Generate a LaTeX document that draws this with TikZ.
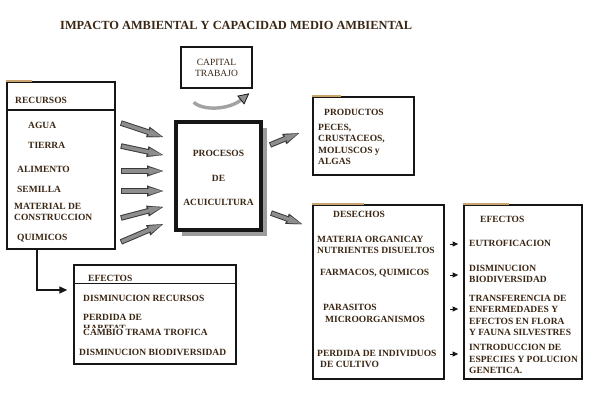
\documentclass[tikz,border=0pt]{standalone}
\usepackage{fontspec}
\setmainfont{Liberation Serif}
\usetikzlibrary{arrows.meta,calc,shadows}
\definecolor{Ink}{HTML}{3A2614}
\definecolor{Edge}{HTML}{161616}
\definecolor{ArrowFill}{HTML}{8E8E8E}
\definecolor{ArrowEdge}{HTML}{3A3A3A}
\definecolor{Bend}{HTML}{A2A2A2}
\definecolor{Shade}{HTML}{9C9C9C}
\definecolor{Tan}{HTML}{C9A46E}

\begin{document}
\begin{tikzpicture}[x=1pt,y=-1pt,>=Latex]
  \tikzset{
    panel/.style={draw=Edge, line width=1.7pt, fill=white, inner sep=0pt},
    capbox/.style={panel, line width=2.6pt, minimum width=71pt, minimum height=41pt},
    procbox/.style={panel, line width=4pt, minimum width=85pt, minimum height=108pt,
      drop shadow={shadow xshift=6pt, shadow yshift=-6pt, fill=Shade, opacity=1}},
    txt/.style={text=Ink, inner sep=0pt, anchor=west, align=left,
      font=\bfseries\fontsize{9.5}{11.6}\selectfont},
    txtc/.style={txt, anchor=center, align=center},
    plain/.style={txtc, font=\fontsize{9.5}{11}\selectfont},
    head/.style={txt},
    maintitle/.style={txt, font=\bfseries\fontsize{12.4}{14}\selectfont},
    tab/.style={draw=Tan, line width=1.4pt},
    fat/.style={line width=5.6pt, draw=ArrowEdge,
      -{Triangle[length=16pt,width=11pt,line width=0.1pt]},
      postaction={draw=ArrowFill, line width=3.6pt,
        -{Triangle[length=13pt,width=7.6pt,line width=0.1pt]},
        shorten >=1.4pt, shorten <=0.9pt}},
    bendarrow/.style={draw=Bend, line width=3.4pt,
      -{Triangle[length=11pt,width=11pt,line width=0.8pt,color=Edge,fill=ArrowFill]}},
    tiny/.style={draw=Edge, line width=1pt, -{Triangle[length=5.5pt,width=5pt]}},
    link/.style={draw=Edge, line width=1.5pt, -{Triangle[length=8pt,width=7pt]}}
  }

  \useasboundingbox (0,0) rectangle (594,413);

  \node[maintitle] (title) at (60,25) {IMPACTO AMBIENTAL Y CAPACIDAD MEDIO AMBIENTAL};

  \node[panel, minimum width=108pt, minimum height=167pt] (recursos) at (61,165.5) {};
  \node[capbox] (capital) at (216.5,67.5) {};
  \node[procbox] (procesos) at (218.5,176) {};
  \node[panel, minimum width=101pt, minimum height=78pt] (productos) at (363.5,136) {};
  \node[panel, minimum width=131pt, minimum height=174pt] (desechos) at (378.5,292) {};
  \node[panel, minimum width=118pt, minimum height=174pt] (efectosR) at (523,292) {};
  \node[panel, line width=1.4pt, minimum width=162pt, minimum height=99pt] (efectosL) at (155,314.5) {};

  \draw[panel] ([yshift=-29pt]recursos.north west) -- ([yshift=-29pt]recursos.north east);
  \draw[panel, line width=1.4pt] ([yshift=-19pt]efectosL.north west) -- ([yshift=-19pt]efectosL.north east);

  \draw[tab] (recursos.north west) -- ++(26pt,0);
  \draw[tab] (productos.north west) -- ++(29pt,0);
  \draw[tab] (desechos.north west) -- ++(52pt,0);
  \draw[tab] (efectosR.north west) -- ++(46pt,0);

  \node[head] (recHead) at (15,100) {RECURSOS};
  \node[txt] (agua) at (28,125) {AGUA};
  \node[txt] (tierra) at (28,145) {TIERRA};
  \node[txt] (alimento) at (17,169) {ALIMENTO};
  \node[txt] (semilla) at (17,189) {SEMILLA};
  \node[txt, font=\bfseries\fontsize{9.5}{11}\selectfont] (material) at (14,211.5) {MATERIAL DE\\CONSTRUCCION};
  \node[txt] (quimicos) at (17,238) {QUIMICOS};

  \node[plain] (capText) at (capital.center) {CAPITAL\\TRABAJO};

  \node[txtc] at (procesos.center) [yshift=23pt] {PROCESOS};
  \node[txtc] at (procesos.center) [yshift=-2pt] {DE};
  \node[txtc] at (procesos.center) [yshift=-26pt] {ACUICULTURA};

  \node[head] (prodHead) at (324,112) {PRODUCTOS};
  \node[txt] (especies) at (318,144.3) {PECES,\\CRUSTACEOS,\\MOLUSCOS y\\ALGAS};

  \node[head] (desHead) at (333,214) {DESECHOS};
  \node[txt, font=\bfseries\fontsize{9.5}{11}\selectfont] (materia) at (317,244.5) {MATERIA ORGANICAY\\NUTRIENTES DISUELTOS};
  \node[txt] (farmacos) at (320,273) {FARMACOS, QUIMICOS};
  \node[txt] (parasitos) at (323,307) {PARASITOS};
  \node[txt] (micro) at (325,319) {MICROORGANISMOS};
  \node[txt] (perdida) at (317,353) {PERDIDA DE INDIVIDUOS};
  \node[txt] (cultivo) at (320,364) {DE CULTIVO};

  \node[head] (efRHead) at (480,219) {EFECTOS};
  \node[txt] (eutro) at (469,243) {EUTROFICACION};
  \node[txt, font=\bfseries\fontsize{9.5}{10.5}\selectfont] (dismin) at (469,274) {DISMINUCION\\BIODIVERSIDAD};
  \node[txt] (transfer) at (469,315.5) {TRANSFERENCIA DE\\ENFERMEDADES Y\\EFECTOS EN FLORA\\Y FAUNA SILVESTRES};
  \node[txt] (intro) at (469,359) {INTRODUCCION DE\\ESPECIES Y POLUCION\\GENETICA.};

  \node[head] (efLHead) at (88,278) {EFECTOS};
  \node[txt] (dismRec) at (83,298) {DISMINUCION RECURSOS};
  \node[txt] (habitat) at (83,323) {PERDIDA DE\\HABITAT};
  \node[txt, fill=white, inner ysep=1.8pt] (trama) at (83,332.5) {CAMBIO TRAMA TROFICA};
  \node[txt] (dismBio) at (79,352) {DISMINUCION BIODIVERSIDAD};

  \foreach \item/\dt/\dh in {agua/2/39, tierra/-1/21, alimento/-2/5, semilla/-2/-15, material/-6.5/-31, quimicos/-4/-48}
    \draw[fat] ($(recursos.east |- \item)+(5pt,\dt pt)$) -- ($(procesos.west)+(-11pt,\dh pt)$);

  \draw[fat] ($(procesos.east)+(7pt,31pt)$) -- ($(productos.west)+(-13pt,3pt)$);
  \draw[fat] ($(procesos.east)+(8pt,-37pt)$) -- ($(desechos.north west)+(-10pt,-20pt)$);

  \draw[bendarrow] ([shift={(14pt,-13pt)}]capital.south west)
    .. controls +(10pt,-9pt) and +(-20pt,-16pt) .. ([shift={(-4pt,-4pt)}]capital.south east);

  \foreach \row/\dy in {eutro/-1, dismin/-1, parasitos/-2, perdida/-1}
    \draw[tiny] ($(desechos.east |- \row)+(5pt,\dy pt)$) -- ($(efectosR.west |- \row)+(-5pt,\dy pt)$);

  \draw[link] ([xshift=31pt]recursos.south west) |- ([xshift=-6pt,yshift=24.5pt]efectosL.west);
\end{tikzpicture}
\end{document}
